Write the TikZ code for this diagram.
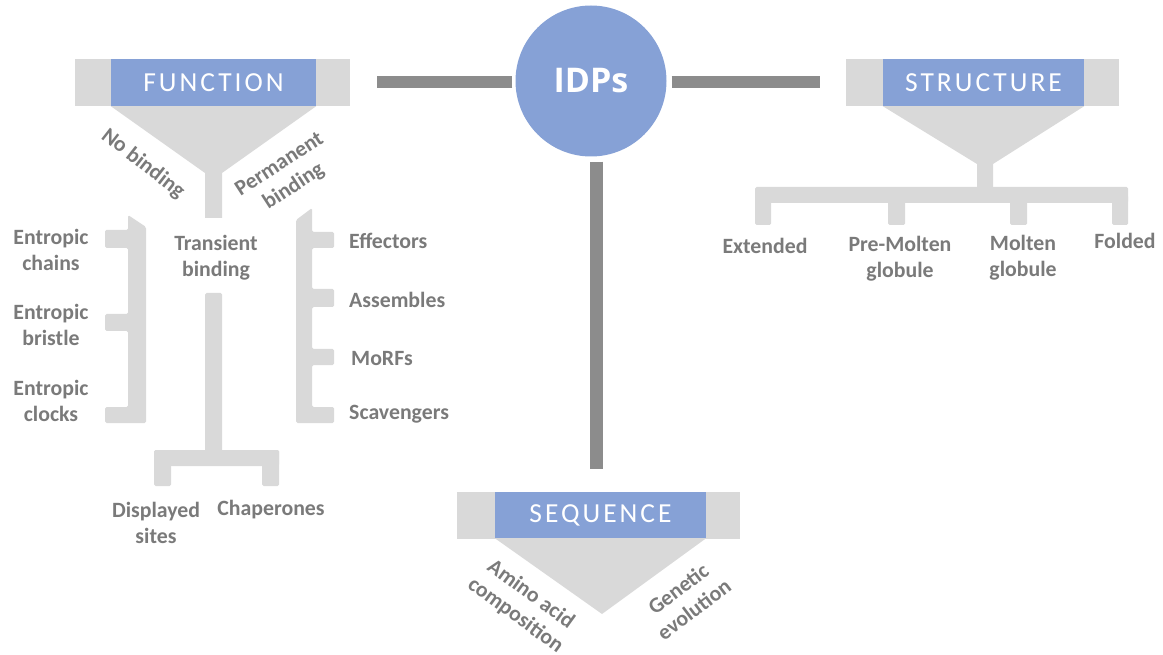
\documentclass[tikz,border=0pt]{standalone}
\usepackage{fontspec}
\setmainfont{Carlito}
\newfontfamily\headfont[LetterSpace=11]{Carlito}
\newfontfamily\idpfont{Open Sans}
\definecolor{idpblue}{HTML}{86A1D6}
\definecolor{panelgray}{HTML}{D9D9D9}
\definecolor{linkgray}{HTML}{8C8C8C}
\definecolor{labelgray}{HTML}{7A7A7A}

\begin{document}
\begin{tikzpicture}[x=1pt, y=-1pt,
  lbl/.style={text=labelgray, font=\bfseries\fontsize{21.8}{26}\selectfont, align=center, inner sep=0pt},
  headbox/.style={fill=idpblue, text=white, font=\headfont\fontsize{27.5}{30}\selectfont,
                  minimum height=47pt, inner sep=0pt},
  panelbox/.style={fill=panelgray, minimum height=47pt, inner sep=0pt},
  graybar/.style={fill=panelgray, rounded corners=1.5pt},
  link/.style={draw=linkgray, line width=12.6pt}]
\useasboundingbox (0,0) rectangle (1163,655);

% ---------- FUNCTION branch ----------
\node[panelbox, minimum width=275pt] (fnpanel) at (212.5,82.5) {};
\node[headbox, minimum width=205pt] (fn) at (213.5,82.5) {FUNCTION};
\fill[panelgray] (fn.south west) -- (fn.south east) -- (222,173) -- (222,218)
  -- (205,218) -- (205,173) -- cycle;
\fill[graybar] (205,293) rectangle (222,458);
\fill[graybar] (154,450) rectangle (279,466);
\fill[graybar] (154,450) rectangle (171,486);
\fill[graybar] (262,450) rectangle (279,486);
% left bracket
\fill[graybar] (128,215) -- (146,227) -- (146,423) -- (105,423) -- (105,407) -- (128,407)
  -- (128,331) -- (105,331) -- (105,314) -- (128,314) -- (128,248) -- (105,248)
  -- (105,230) -- (128,230) -- cycle;
% right bracket
\fill[graybar] (296,220) -- (312,208) -- (312,232) -- (334,232) -- (334,248) -- (312,248)
  -- (312,289) -- (334,289) -- (334,307) -- (312,307) -- (312,349) -- (334,349)
  -- (334,365) -- (312,365) -- (312,407) -- (334,407) -- (334,423) -- (296,423) -- cycle;

\node[lbl, rotate=-38] (nobind) at (143,164) {No binding};
\node[lbl, rotate=33] (permbind) at (287,176) {Permanent\\binding};
\node[lbl] (transient) at (216,258) {Transient\\binding};
\node[lbl] (echains) at (51,250) {Entropic\\chains};
\node[lbl] (ebristle) at (51,325) {Entropic\\bristle};
\node[lbl] (eclocks) at (51,401) {Entropic\\clocks};
\node[lbl, anchor=west] (effectors) at (349,241) {Effectors};
\node[lbl, anchor=west] (assembles) at (349,300) {Assembles};
\node[lbl, anchor=west] (morfs) at (351,359) {MoRFs};
\node[lbl, anchor=west] (scavengers) at (349,414) {Scavengers};
\node[lbl] (displayed) at (156,523) {Displayed\\sites};
\node[lbl] (chaperones) at (271,510) {Chaperones};

% ---------- STRUCTURE branch ----------
\node[panelbox, minimum width=273pt] (stpanel) at (982.5,82.5) {};
\node[headbox, minimum width=201pt] (st) at (983.5,82.5) {STRUCTURE};
\fill[panelgray] (st.south west) -- (st.south east) -- (993,164) -- (993,190)
  -- (977,190) -- (977,164) -- cycle;
\fill[graybar] (755,187) rectangle (1128,203);
\fill[graybar] (755,195) rectangle (771,225);
\fill[graybar] (888,195) rectangle (905,225);
\fill[graybar] (1010,195) rectangle (1027,225);
\fill[graybar] (1112,195) rectangle (1128,225);

\node[lbl] (extended) at (765,246) {Extended};
\node[lbl] (premolten) at (900,259) {Pre-Molten\\globule};
\node[lbl] (molten) at (1023,258) {Molten\\globule};
\node[lbl] (folded) at (1125,241) {Folded};

% ---------- SEQUENCE branch ----------
\node[panelbox, minimum width=283pt] (sqpanel) at (598.5,515) {};
\node[headbox, minimum width=211pt, minimum height=46pt] (sq) at (600.5,515) {SEQUENCE};
\fill[panelgray] (sq.south west) -- (sq.south east) -- (602,614) -- cycle;

\node[lbl, rotate=-36] (amino) at (523,605) {Amino acid\\composition};
\node[lbl, rotate=37] (genetic) at (686,599) {Genetic\\evolution};

% ---------- centre ----------
\node[circle, fill=idpblue, minimum size=151pt, inner sep=0pt, text=white,
      font=\idpfont\bfseries\fontsize{34}{36}\selectfont] (idp) at (591,81) {IDPs};

\draw[link, shorten <=3pt, shorten >=27pt] (idp.west |- 0,82) -- (fnpanel.east |- 0,82);
\draw[link, shorten <=5pt, shorten >=26pt] (idp.east |- 0,82) -- (stpanel.west |- 0,82);
\draw[link, shorten <=5pt, shorten >=22pt] ([xshift=5.5pt]idp.south) -- ([xshift=5.5pt]idp.south |- sqpanel.north);
\end{tikzpicture}
\end{document}
